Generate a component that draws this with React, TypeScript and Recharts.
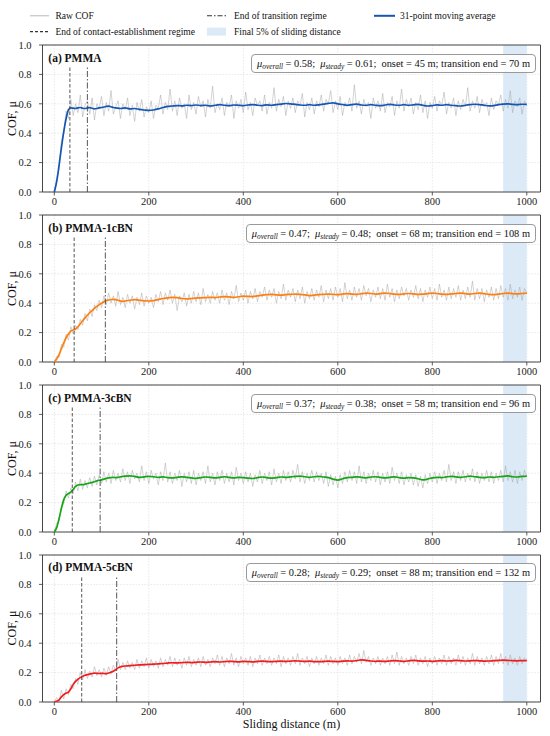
import React from "react";
import {
  LineChart,
  Line,
  XAxis,
  YAxis,
  CartesianGrid,
  ReferenceLine,
  ReferenceArea,
} from "recharts";

// sampling grids (m)
const rawDist = Array.from({ length: 201 }, (_, i) => i * 5);
const maDist = [
  ...Array.from({ length: 31 }, (_, i) => i * 5),
  ...Array.from({ length: 85 }, (_, i) => 160 + i * 10),
];
const xTicks = [0, 200, 400, 600, 800, 1000];
const yTicks = [0, 0.2, 0.4, 0.6, 0.8, 1.0];

const titles = ["(a) PMMA", "(b) PMMA-1cBN", "(c) PMMA-3cBN", "(d) PMMA-5cBN"];
const muOverall = [0.58, 0.47, 0.37, 0.28];
const muSteady = [0.61, 0.48, 0.38, 0.29];
const onsetM = [45, 68, 58, 88];
const transitionEndM = [70, 108, 96, 132];
const contactLineX = [33, 42, 38, 58];
const transitionLineX = [70, 108, 97, 132];
const maColors = ["#1556b4", "#ff7f0e", "#16a516", "#f21a1a"];

// 31-point moving averages
const maA = [
  0, 0.07, 0.18, 0.3, 0.41, 0.5, 0.56, 0.572, 0.57, 0.568,
  0.572, 0.575, 0.57, 0.568, 0.572, 0.574, 0.57, 0.566, 0.568, 0.572,
  0.575, 0.578, 0.582, 0.584, 0.58, 0.575, 0.572, 0.57, 0.568, 0.57,
  0.572,
  0.565, 0.568, 0.562, 0.558, 0.555, 0.558, 0.565, 0.575, 0.582, 0.585,
  0.588, 0.586, 0.59, 0.588, 0.592, 0.588, 0.59, 0.585, 0.59, 0.594,
  0.59, 0.587, 0.592, 0.59, 0.588, 0.592, 0.595, 0.59, 0.588, 0.593,
  0.59, 0.594, 0.598, 0.602, 0.6, 0.596, 0.592, 0.59, 0.594, 0.59,
  0.593, 0.598, 0.603, 0.606, 0.6, 0.595, 0.59, 0.594, 0.598, 0.592,
  0.59, 0.594, 0.59, 0.587, 0.592, 0.596, 0.592, 0.59, 0.594, 0.59,
  0.593, 0.596, 0.59, 0.585, 0.588, 0.593, 0.59, 0.594, 0.59, 0.587,
  0.585, 0.59, 0.594, 0.597, 0.595, 0.59, 0.586, 0.588, 0.594, 0.598,
  0.6, 0.596, 0.594, 0.597, 0.596,
];
const maB = [
  0, 0.02, 0.05, 0.09, 0.13, 0.165, 0.19, 0.21, 0.218, 0.225,
  0.24, 0.26, 0.28, 0.3, 0.318, 0.335, 0.35, 0.365, 0.378, 0.39,
  0.4, 0.41, 0.418, 0.422, 0.425, 0.426, 0.424, 0.42, 0.415, 0.412,
  0.415,
  0.42, 0.425, 0.42, 0.416, 0.415, 0.418, 0.425, 0.432, 0.436, 0.44,
  0.438, 0.432, 0.43, 0.432, 0.435, 0.436, 0.438, 0.44, 0.438, 0.442,
  0.445, 0.443, 0.44, 0.444, 0.448, 0.446, 0.445, 0.45, 0.455, 0.458,
  0.46, 0.457, 0.455, 0.458, 0.46, 0.462, 0.46, 0.456, 0.452, 0.455,
  0.458, 0.46, 0.462, 0.46, 0.458, 0.462, 0.465, 0.462, 0.46, 0.465,
  0.468, 0.466, 0.462, 0.465, 0.468, 0.466, 0.462, 0.46, 0.463, 0.466,
  0.464, 0.46, 0.462, 0.465, 0.468, 0.466, 0.462, 0.46, 0.463, 0.466,
  0.468, 0.465, 0.462, 0.466, 0.468, 0.465, 0.46, 0.458, 0.462, 0.466,
  0.468, 0.465, 0.463, 0.466, 0.468,
];
const maC = [
  0, 0.03, 0.09, 0.16, 0.22, 0.25, 0.262, 0.272, 0.29, 0.31,
  0.32, 0.322, 0.322, 0.325, 0.33, 0.333, 0.338, 0.342, 0.348, 0.352,
  0.355, 0.36, 0.365, 0.368, 0.37, 0.372, 0.37, 0.372, 0.375, 0.378,
  0.38,
  0.382, 0.378, 0.372, 0.375, 0.378, 0.376, 0.372, 0.375, 0.37, 0.368,
  0.372, 0.375, 0.372, 0.368, 0.365, 0.37, 0.374, 0.372, 0.368, 0.372,
  0.376, 0.372, 0.368, 0.372, 0.37, 0.366, 0.364, 0.37, 0.374, 0.37,
  0.366, 0.37, 0.374, 0.372, 0.375, 0.378, 0.38, 0.376, 0.372, 0.376,
  0.378, 0.374, 0.37, 0.36, 0.353, 0.362, 0.37, 0.372, 0.375, 0.372,
  0.368, 0.374, 0.376, 0.372, 0.368, 0.372, 0.375, 0.37, 0.366, 0.37,
  0.368, 0.362, 0.354, 0.36, 0.368, 0.372, 0.37, 0.375, 0.378, 0.375,
  0.372, 0.376, 0.38, 0.376, 0.372, 0.37, 0.374, 0.372, 0.376, 0.378,
  0.382, 0.376, 0.374, 0.378, 0.38,
];
const maD = [
  0, 0.005, 0.015, 0.035, 0.05, 0.06, 0.068, 0.09, 0.12, 0.14,
  0.155, 0.166, 0.175, 0.182, 0.186, 0.19, 0.194, 0.196, 0.195, 0.194,
  0.195, 0.194, 0.193, 0.197, 0.203, 0.21, 0.22, 0.232, 0.24, 0.243,
  0.245,
  0.248, 0.25, 0.252, 0.254, 0.256, 0.257, 0.26, 0.262, 0.265, 0.267,
  0.266, 0.268, 0.27, 0.268, 0.27, 0.272, 0.27, 0.272, 0.274, 0.272,
  0.275, 0.277, 0.275, 0.273, 0.276, 0.275, 0.273, 0.276, 0.278, 0.276,
  0.274, 0.277, 0.278, 0.276, 0.278, 0.28, 0.278, 0.276, 0.278, 0.275,
  0.274, 0.276, 0.278, 0.276, 0.275, 0.278, 0.28, 0.278, 0.282, 0.287,
  0.283, 0.279, 0.277, 0.278, 0.276, 0.279, 0.281, 0.279, 0.277, 0.28,
  0.283, 0.28, 0.278, 0.279, 0.277, 0.279, 0.281, 0.279, 0.28, 0.283,
  0.281, 0.279, 0.28, 0.282, 0.28, 0.278, 0.279, 0.281, 0.283, 0.285,
  0.283, 0.281, 0.28, 0.282, 0.281,
];

// raw COF, every 5 m
const rawA = [
  0, 0.1, 0.15, 0.35, 0.4, 0.55, 0.5, 0.63, 0.52, 0.6,
  0.54, 0.66, 0.51, 0.59, 0.62, 0.53, 0.64, 0.49, 0.6, 0.57,
  0.65, 0.52, 0.61, 0.55, 0.69, 0.53, 0.58, 0.62, 0.5, 0.6,
  0.56, 0.64, 0.52, 0.59, 0.48, 0.61, 0.55, 0.63, 0.51, 0.58,
  0.54, 0.62, 0.5, 0.59, 0.57, 0.66, 0.53, 0.61, 0.56, 0.7,
  0.55, 0.62, 0.52, 0.64, 0.57, 0.6, 0.5, 0.66, 0.56, 0.61,
  0.53, 0.65, 0.58, 0.62, 0.51, 0.63, 0.57, 0.72, 0.54, 0.6,
  0.56, 0.64, 0.52, 0.61, 0.58, 0.66, 0.5, 0.62, 0.57, 0.63,
  0.54, 0.68, 0.56, 0.61, 0.52, 0.64, 0.59, 0.62, 0.55, 0.66,
  0.53, 0.61, 0.57, 0.71, 0.55, 0.63, 0.58, 0.65, 0.52, 0.62,
  0.57, 0.64, 0.54, 0.62, 0.59, 0.67, 0.51, 0.61, 0.56, 0.64,
  0.53, 0.62, 0.58, 0.66, 0.55, 0.63, 0.6, 0.69, 0.54, 0.62,
  0.56, 0.65, 0.52, 0.61, 0.58, 0.64, 0.55, 0.73, 0.57, 0.62,
  0.53, 0.63, 0.58, 0.61, 0.5, 0.64, 0.57, 0.62, 0.55, 0.67,
  0.54, 0.61, 0.58, 0.65, 0.52, 0.62, 0.57, 0.7, 0.55, 0.63,
  0.58, 0.64, 0.53, 0.61, 0.56, 0.66, 0.54, 0.62, 0.5, 0.61,
  0.57, 0.65, 0.55, 0.62, 0.59, 0.68, 0.53, 0.61, 0.57, 0.64,
  0.52, 0.62, 0.56, 0.63, 0.58, 0.71, 0.55, 0.62, 0.57, 0.65,
  0.54, 0.63, 0.58, 0.61, 0.52, 0.64, 0.56, 0.62, 0.59, 0.66,
  0.55, 0.63, 0.57, 0.69, 0.54, 0.62, 0.58, 0.64, 0.53, 0.62,
  0.59,
];
const rawB = [
  0, 0.04, 0.03, 0.12, 0.1, 0.19, 0.15, 0.24, 0.19, 0.25,
  0.22, 0.29, 0.25, 0.33, 0.28, 0.36, 0.31, 0.39, 0.35, 0.42,
  0.37, 0.45, 0.39, 0.47, 0.4, 0.45, 0.38, 0.48, 0.39, 0.44,
  0.37, 0.46, 0.4, 0.45, 0.36, 0.44, 0.39, 0.47, 0.38, 0.45,
  0.4, 0.44, 0.37, 0.46, 0.41, 0.48, 0.39, 0.47, 0.42, 0.49,
  0.4, 0.46, 0.35, 0.45, 0.41, 0.47, 0.38, 0.46, 0.4, 0.48,
  0.41, 0.47, 0.39, 0.5, 0.41, 0.46, 0.4, 0.48, 0.42, 0.47,
  0.4, 0.49, 0.42, 0.47, 0.39, 0.48, 0.43, 0.52, 0.41, 0.47,
  0.42, 0.49, 0.4, 0.48, 0.43, 0.5, 0.41, 0.48, 0.44, 0.51,
  0.42, 0.49, 0.44, 0.5, 0.4, 0.48, 0.43, 0.53, 0.42, 0.49,
  0.44, 0.5, 0.41, 0.49, 0.43, 0.51, 0.4, 0.48, 0.43, 0.5,
  0.42, 0.49, 0.44, 0.52, 0.41, 0.49, 0.43, 0.5, 0.42, 0.51,
  0.44, 0.5, 0.41, 0.54, 0.43, 0.49, 0.42, 0.51, 0.44, 0.5,
  0.42, 0.52, 0.45, 0.5, 0.41, 0.49, 0.44, 0.51, 0.43, 0.5,
  0.42, 0.53, 0.44, 0.5, 0.41, 0.49, 0.43, 0.51, 0.45, 0.5,
  0.42, 0.49, 0.44, 0.52, 0.43, 0.5, 0.41, 0.49, 0.44, 0.51,
  0.43, 0.5, 0.42, 0.53, 0.44, 0.49, 0.42, 0.51, 0.43, 0.5,
  0.44, 0.52, 0.42, 0.49, 0.43, 0.51, 0.44, 0.55, 0.42, 0.5,
  0.43, 0.5, 0.41, 0.49, 0.44, 0.51, 0.42, 0.5, 0.43, 0.52,
  0.44, 0.5, 0.42, 0.53, 0.43, 0.49, 0.44, 0.51, 0.42, 0.5,
  0.47,
];
const rawC = [
  0, 0.06, 0.07, 0.18, 0.19, 0.28, 0.23, 0.3, 0.26, 0.34,
  0.28, 0.36, 0.29, 0.35, 0.3, 0.37, 0.31, 0.38, 0.32, 0.39,
  0.33, 0.41, 0.34, 0.4, 0.33, 0.42, 0.35, 0.4, 0.34, 0.43,
  0.35, 0.41, 0.33, 0.42, 0.36, 0.4, 0.34, 0.45, 0.35, 0.41,
  0.33, 0.42, 0.36, 0.4, 0.32, 0.41, 0.35, 0.47, 0.34, 0.41,
  0.33, 0.4, 0.35, 0.42, 0.31, 0.4, 0.34, 0.41, 0.33, 0.42,
  0.32, 0.4, 0.35, 0.41, 0.33, 0.45, 0.34, 0.4, 0.32, 0.41,
  0.35, 0.42, 0.33, 0.4, 0.34, 0.41, 0.32, 0.44, 0.35, 0.4,
  0.33, 0.41, 0.34, 0.4, 0.31, 0.39, 0.34, 0.42, 0.33, 0.4,
  0.35, 0.41, 0.32, 0.43, 0.34, 0.4, 0.33, 0.42, 0.35, 0.41,
  0.34, 0.42, 0.36, 0.46, 0.34, 0.41, 0.33, 0.4, 0.35, 0.42,
  0.34, 0.41, 0.35, 0.4, 0.33, 0.41, 0.31, 0.39, 0.32, 0.38,
  0.3, 0.39, 0.33, 0.41, 0.34, 0.42, 0.35, 0.41, 0.33, 0.45,
  0.34, 0.41, 0.33, 0.4, 0.35, 0.42, 0.34, 0.41, 0.32, 0.4,
  0.34, 0.41, 0.33, 0.44, 0.35, 0.4, 0.33, 0.41, 0.32, 0.39,
  0.34, 0.4, 0.32, 0.39, 0.31, 0.38, 0.3, 0.39, 0.33, 0.4,
  0.34, 0.41, 0.33, 0.4, 0.35, 0.42, 0.34, 0.46, 0.35, 0.41,
  0.33, 0.41, 0.35, 0.42, 0.34, 0.4, 0.35, 0.43, 0.34, 0.41,
  0.33, 0.4, 0.35, 0.42, 0.34, 0.41, 0.33, 0.4, 0.35, 0.42,
  0.34, 0.45, 0.35, 0.41, 0.34, 0.42, 0.33, 0.41, 0.35, 0.42,
  0.38,
];
const rawD = [
  0, 0.03, 0, 0.08, 0.02, 0.09, 0.05, 0.12, 0.09, 0.16,
  0.12, 0.2, 0.15, 0.22, 0.16, 0.21, 0.17, 0.24, 0.18, 0.22,
  0.17, 0.23, 0.18, 0.24, 0.19, 0.25, 0.21, 0.29, 0.22, 0.27,
  0.22, 0.28, 0.23, 0.27, 0.22, 0.29, 0.23, 0.28, 0.24, 0.3,
  0.23, 0.29, 0.24, 0.28, 0.23, 0.3, 0.24, 0.29, 0.25, 0.31,
  0.24, 0.3, 0.25, 0.29, 0.23, 0.3, 0.25, 0.31, 0.24, 0.29,
  0.25, 0.3, 0.24, 0.31, 0.25, 0.29, 0.24, 0.3, 0.26, 0.32,
  0.25, 0.31, 0.24, 0.3, 0.26, 0.33, 0.25, 0.3, 0.24, 0.31,
  0.26, 0.3, 0.25, 0.31, 0.24, 0.3, 0.26, 0.32, 0.25, 0.3,
  0.26, 0.31, 0.25, 0.3, 0.26, 0.32, 0.24, 0.31, 0.26, 0.3,
  0.25, 0.31, 0.26, 0.33, 0.25, 0.3, 0.26, 0.31, 0.24, 0.3,
  0.26, 0.31, 0.25, 0.3, 0.26, 0.32, 0.25, 0.31, 0.26, 0.3,
  0.25, 0.31, 0.26, 0.3, 0.25, 0.32, 0.26, 0.31, 0.27, 0.33,
  0.26, 0.35, 0.27, 0.31, 0.25, 0.3, 0.26, 0.31, 0.25, 0.3,
  0.26, 0.31, 0.25, 0.32, 0.26, 0.34, 0.25, 0.31, 0.26, 0.3,
  0.25, 0.31, 0.26, 0.32, 0.25, 0.3, 0.26, 0.31, 0.24, 0.3,
  0.26, 0.31, 0.25, 0.3, 0.26, 0.32, 0.25, 0.31, 0.26, 0.3,
  0.25, 0.32, 0.26, 0.31, 0.25, 0.3, 0.26, 0.33, 0.25, 0.31,
  0.26, 0.3, 0.25, 0.31, 0.26, 0.32, 0.25, 0.31, 0.26, 0.33,
  0.26, 0.31, 0.25, 0.32, 0.26, 0.3, 0.25, 0.31, 0.26, 0.3,
  0.28,
];

const rawSeries = [rawA, rawB, rawC, rawD];
const maSeries = [maA, maB, maC, maD];

// layout (px)
const PLOT_TOP = [45, 215, 385, 554.5];
const PLOT_H = 147;
const PLOT_LEFT = 42.5;
const PLOT_RIGHT = 540.5;
const X_DOMAIN: [number, number] = [-25, 1029];
const FONT = "'Liberation Serif', 'Times New Roman', serif";

function Panel({ idx }: { idx: number }) {
  const raw = rawDist.map((x, i) => ({ x, y: rawSeries[idx][i] }));
  const ma = maDist.map((x, i) => ({ x, y: maSeries[idx][i] }));
  const cx = contactLineX[idx];
  const tx = transitionLineX[idx];
  const tick = { fontSize: 10.5, fill: "#1a1a1a", fontFamily: FONT };

  return (
    <div style={{ position: "absolute", left: 0, top: PLOT_TOP[idx] - 5 }}>
      <LineChart
        width={550}
        height={5 + PLOT_H + 22}
        margin={{ top: 5, right: 550 - PLOT_RIGHT, bottom: 0, left: 0 }}
      >
        <CartesianGrid stroke="#d6d6d6" strokeDasharray="1.5 1.5" strokeWidth={0.6} />
        <XAxis
          type="number"
          dataKey="x"
          domain={X_DOMAIN}
          allowDataOverflow
          ticks={xTicks}
          height={22}
          tick={tick}
          tickSize={3.5}
          tickMargin={2}
          axisLine={false}
          tickLine={{ stroke: "#333", strokeWidth: 0.8 }}
        />
        <YAxis
          type="number"
          domain={[0, 1]}
          allowDataOverflow
          ticks={yTicks}
          width={PLOT_LEFT}
          tick={tick}
          tickSize={3.5}
          tickMargin={7.5}
          tickFormatter={(v: number) => v.toFixed(1)}
          axisLine={false}
          tickLine={{ stroke: "#333", strokeWidth: 0.8 }}
        />
        {/* final 5% of sliding distance */}
        <ReferenceArea x1={950} x2={1000} y1={0} y2={1} fill="#dbeaf6" fillOpacity={1} stroke="none" ifOverflow="visible" />
        <Line
          data={raw}
          dataKey="y"
          type="linear"
          stroke="#a6a6a6"
          strokeWidth={0.5}
          dot={false}
          isAnimationActive={false}
        />
        <Line
          data={ma}
          dataKey="y"
          type="monotone"
          stroke={maColors[idx]}
          strokeWidth={1.7}
          dot={false}
          isAnimationActive={false}
        />
        <ReferenceLine
          segment={[{ x: cx, y: 0 }, { x: cx, y: 0.85 }]}
          stroke="#444"
          strokeWidth={0.9}
          strokeDasharray="3.5 2"
          ifOverflow="visible"
        />
        <ReferenceLine
          segment={[{ x: tx, y: 0 }, { x: tx, y: 0.85 }]}
          stroke="#444"
          strokeWidth={0.9}
          strokeDasharray="6 2 1.5 2"
          ifOverflow="visible"
        />
        {/* frame */}
        <ReferenceArea
          x1={X_DOMAIN[0]}
          x2={X_DOMAIN[1]}
          y1={0}
          y2={1}
          fill="none"
          stroke="#333"
          strokeWidth={0.9}
          ifOverflow="visible"
        />
      </LineChart>
    </div>
  );
}

function StatsBox({ idx }: { idx: number }) {
  const sub = { fontSize: 7.3, verticalAlign: "-2px", lineHeight: 0 } as const;
  return (
    <div
      style={{
        position: "absolute",
        right: 550 - 536,
        top: PLOT_TOP[idx] + 8.5,
        height: 19,
        padding: "0 5px",
        boxSizing: "border-box",
        border: "1px solid #9a9a9a",
        borderRadius: 4,
        background: "rgba(255,255,255,0.9)",
        fontFamily: FONT,
        fontSize: 10.4,
        color: "#111",
        display: "flex",
        alignItems: "center",
        whiteSpace: "pre",
      }}
    >
      <i>μ<span style={sub}>overall</span></i>
      {` = ${muOverall[idx].toFixed(2)};  `}
      <i>μ<span style={sub}>steady</span></i>
      {` = ${muSteady[idx].toFixed(2)};  onset = ${onsetM[idx]} m; transition end = ${transitionEndM[idx]} m`}
    </div>
  );
}

export default function App() {
  const legY1 = 15.8;
  const legY2 = 31.6;
  return (
    <div style={{ position: "absolute", left: 0, top: 0, width: 550, height: 736, background: "#fff" }}>
      {[0, 1, 2, 3].map((i) => (
        <Panel key={i} idx={i} />
      ))}
      {[0, 1, 2, 3].map((i) => (
        <StatsBox key={i} idx={i} />
      ))}
      <svg
        width={550}
        height={736}
        style={{ position: "absolute", left: 0, top: 0, pointerEvents: "none" }}
        fontFamily={FONT}
        fill="#111"
      >
        {/* legend */}
        <line x1={30} x2={49} y1={legY1} y2={legY1} stroke="#b8b8b8" strokeWidth={1} />
        <text x={55.4} y={legY1} fontSize={9.5} dominantBaseline="central">Raw COF</text>
        <line x1={207} x2={226} y1={legY1} y2={legY1} stroke="#333" strokeWidth={1.1} strokeDasharray="5 2 1.5 2" />
        <text x={234} y={legY1} fontSize={9.5} dominantBaseline="central">End of transition regime</text>
        <line x1={374} x2={395} y1={legY1} y2={legY1} stroke={maColors[0]} strokeWidth={2} />
        <text x={400} y={legY1} fontSize={9.5} dominantBaseline="central">31-point moving average</text>
        <line x1={30} x2={49} y1={legY2} y2={legY2} stroke="#333" strokeWidth={1.1} strokeDasharray="3 2" />
        <text x={55.4} y={legY2} fontSize={9.5} dominantBaseline="central">End of contact-establishment regime</text>
        <rect x={207} y={legY2 - 4} width={19} height={8} fill="#dbeaf6" />
        <text x={234} y={legY2} fontSize={9.5} dominantBaseline="central">Final 5% of sliding distance</text>

        {PLOT_TOP.map((t, i) => (
          <g key={i}>
            <text x={PLOT_LEFT + 5.8} y={t + 16.7} fontSize={11.5} fontWeight="bold">
              {titles[i]}
            </text>
            <text
              transform={`translate(12, ${t + PLOT_H / 2}) rotate(-90)`}
              textAnchor="middle"
              dominantBaseline="central"
              fontSize={12}
            >
              COF, μ
            </text>
          </g>
        ))}
        <text x={(PLOT_LEFT + PLOT_RIGHT) / 2} y={724} textAnchor="middle" dominantBaseline="central" fontSize={12}>
          Sliding distance (m)
        </text>
      </svg>
    </div>
  );
}
